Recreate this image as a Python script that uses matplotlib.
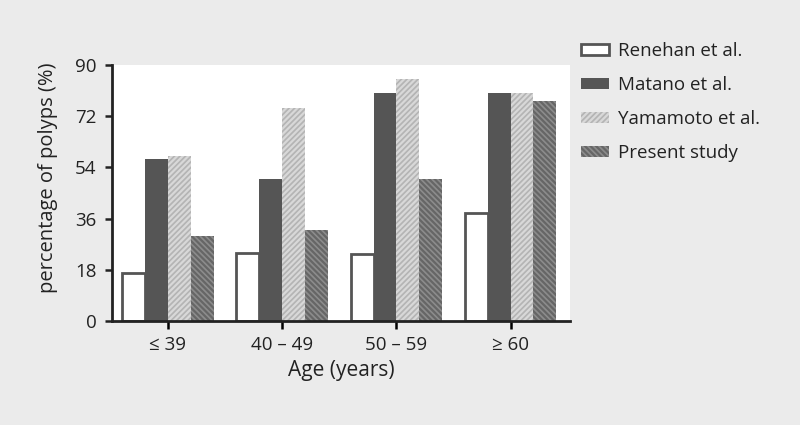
import matplotlib
matplotlib.use("Agg")
import matplotlib.pyplot as plt
import numpy as np

plt.rcParams['font.family'] = ['Open Sans', 'DejaVu Sans']
plt.rcParams['hatch.linewidth'] = 1.6

categories = ["≤ 39", "40 – 49", "50 – 59", "≥ 60"]
series_names = ["Renehan et al.", "Matano et al.", "Yamamoto et al.", "Present study"]
renehan = [17, 24, 23.5, 38]
matano = [57, 50, 80, 80]
yamamoto = [58, 75, 85, 80]
present = [30, 32, 50, 77.5]
yticks = [0, 18, 36, 54, 72, 90]

bg = "#ebebeb"
fig = plt.figure(figsize=(8, 4.25), dpi=100, facecolor=bg)
ax = fig.add_axes([0.14, 0.2447, 0.5725, 0.6024])
ax.set_facecolor("white")

x = np.arange(len(categories))
w = 0.2
styles = [
    dict(facecolor="white", edgecolor="#555555", linewidth=2.0),
    dict(facecolor="#555555", edgecolor="#555555", linewidth=0),
    dict(facecolor="#b4b4b4", edgecolor="#d8d8d8", linewidth=0, hatch="//////"),
    dict(facecolor="#8c8c8c", edgecolor="#666666", linewidth=0, hatch="\\\\\\\\\\\\"),
]
data = [renehan, matano, yamamoto, present]
handles = []
for i, (vals, st, name) in enumerate(zip(data, styles, series_names)):
    b = ax.bar(x + (i - 1.5) * w, vals, w, label=name, **st)
    handles.append(b)

ax.set_xlim(-0.49, 3.52)
ax.set_ylim(0, 90)
ax.set_yticks(yticks)
ax.set_xticks(x)
ax.set_xticklabels(categories, fontsize=13.5, color="#222222")
ax.tick_params(axis='y', labelsize=13.5, colors="#222222", length=5, width=1.8, direction='out', pad=6)
ax.tick_params(axis='x', length=6, width=1.8, direction='out', pad=5)
for s in ["top", "right"]:
    ax.spines[s].set_visible(False)
for s in ["left", "bottom"]:
    ax.spines[s].set_linewidth(2.0)
    ax.spines[s].set_color("#222222")
ax.set_ylabel("percentage of polyps (%)", fontsize=14.5, color="#222222", labelpad=8)
ax.yaxis.set_label_coords(-0.118, 0.56)
ax.set_xlabel("Age (years)", fontsize=15, color="#222222", labelpad=4)

leg = fig.legend(handles=handles, labels=series_names, loc="upper left",
                 bbox_to_anchor=(0.705, 0.94), frameon=False, fontsize=13.5,
                 handlelength=1.5, handleheight=0.5, labelspacing=0.85,
                 handletextpad=0.5, labelcolor="#222222")

fig.savefig("out.png", dpi=100, facecolor=bg)
